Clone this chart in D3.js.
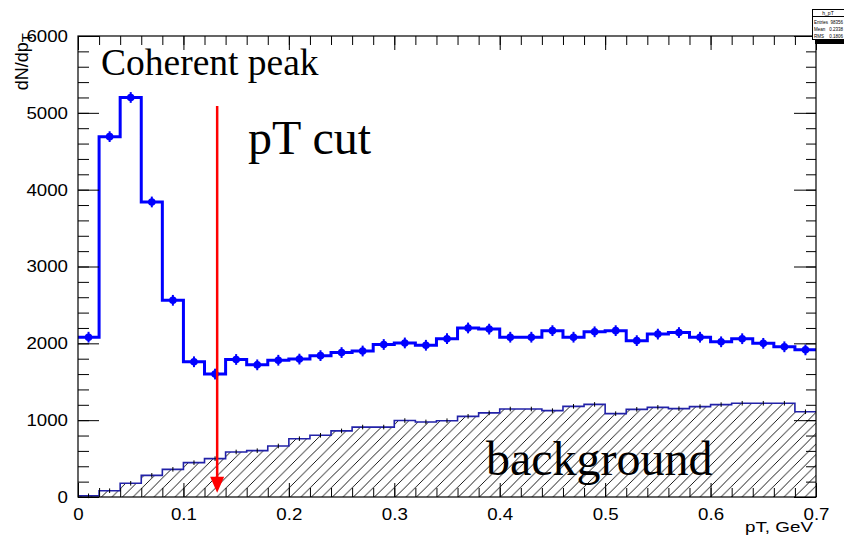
<!DOCTYPE html>
<html><head><meta charset="utf-8">
<script src="https://cdn.jsdelivr.net/npm/d3@7"></script>
<style>body{margin:0;background:#fff} svg{display:block}</style>
</head><body>
<svg id="c" width="844" height="542"></svg>
<script>
// ---- data ----
const binLow = [0.00,0.02,0.04,0.06,0.08,0.10,0.12,0.14,0.16,0.18,0.20,0.22,0.24,0.26,0.28,0.30,0.32,0.34,0.36,0.38,0.40,0.42,0.44,0.46,0.48,0.50,0.52,0.54,0.56,0.58,0.60,0.62,0.64,0.66,0.68];
const binWidth = 0.02;
const signal = [2080,4690,5200,3840,2560,1760,1600,1790,1720,1780,1795,1840,1880,1900,1985,2005,1975,2060,2200,2185,2080,2080,2165,2080,2150,2165,2035,2120,2140,2080,2020,2060,2000,1955,1915];
const signalErr = [70,70,70,70,70,70,70,70,70,70,70,70,70,70,70,70,70,70,70,70,70,70,70,70,70,70,70,70,70,70,70,70,70,70,70];
const background = [15,82,178,282,360,447,499,586,603,664,759,803,860,910,910,995,977,993,1050,1095,1145,1145,1124,1180,1205,1085,1141,1167,1150,1176,1202,1220,1220,1220,1110];
const backgroundErr = [30,30,30,30,30,30,30,30,30,30,30,30,30,30,30,30,30,30,30,30,30,30,30,30,30,30,30,30,30,30,30,30,30,30,30];
const xTicks = [0,0.1,0.2,0.3,0.4,0.5,0.6,0.7];
const xTickLabels = ["0","0.1","0.2","0.3","0.4","0.5","0.6","0.7"];
const xMinorTicks = binLow.concat([0.7]);
const yTicks = [0,1000,2000,3000,4000,5000,6000];
const yTickLabels = ["0","1000","2000","3000","4000","5000","6000"];
const yMinorTicks = [0,200,400,600,800,1000,1200,1400,1600,1800,2000,2200,2400,2600,2800,3000,3200,3400,3600,3800,4000,4200,4400,4600,4800,5000,5200,5400,5600,5800,6000];
const cutValue = 0.132;
const arrowTop = 5090, arrowTip = 55;
const xTitle = "pT, GeV";
const yTitleMain = "dN/dp", yTitleSub = "T";

// ---- layout ----
const L = 78, R = 816, T = 36, B = 497;
const x = d3.scaleLinear().domain([0, 0.7]).range([L, R]);
const y = d3.scaleLinear().domain([0, 6000]).range([B, T]);
const svg = d3.select("#c");
const sans = "'Liberation Sans', Arial, Helvetica, sans-serif";
const serif = "'Liberation Serif', 'Times New Roman', serif";

const defs = svg.append("defs");
const s = 10.5;
const pat = defs.append("pattern").attr("id","hatch").attr("patternUnits","userSpaceOnUse")
  .attr("width", s).attr("height", s);
pat.append("path")
  .attr("d", `M0,${s} L${s},0 M${-s/4},${s/4} L${s/4},${-s/4} M${3*s/4},${5*s/4} L${5*s/4},${3*s/4}`)
  .attr("stroke","#000").attr("stroke-width",0.9).attr("fill","none");

// background histogram
const bgPts = binLow.map((b,i)=>[b, background[i]]).concat([[0.7, background[background.length-1]]]);
svg.append("path")
  .attr("d", d3.area().x(d=>x(d[0])).y0(y(0)).y1(d=>y(d[1])).curve(d3.curveStepAfter)(bgPts))
  .attr("fill","url(#hatch)");
svg.append("path")
  .attr("d", d3.line().x(d=>x(d[0])).y(d=>y(d[1])).curve(d3.curveStepAfter)(bgPts))
  .attr("fill","none").attr("stroke","#2222a8").attr("stroke-width",1.6);
svg.append("g").selectAll("line").data(background).join("line")
  .attr("x1",(d,i)=>x(binLow[i]+binWidth/2)).attr("x2",(d,i)=>x(binLow[i]+binWidth/2))
  .attr("y1",(d,i)=>y(d-backgroundErr[i])).attr("y2",(d,i)=>y(d+backgroundErr[i]))
  .attr("stroke","#000").attr("stroke-width",1);

// signal histogram
const sigPts = binLow.map((b,i)=>[b, signal[i]]).concat([[0.7, signal[signal.length-1]]]);
svg.append("path")
  .attr("d", d3.line().x(d=>x(d[0])).y(d=>y(d[1])).curve(d3.curveStepAfter)(sigPts))
  .attr("fill","none").attr("stroke","#0000ff").attr("stroke-width",3);
const mk = svg.append("g");
mk.selectAll("line").data(signal).join("line")
  .attr("x1",(d,i)=>x(binLow[i]+binWidth/2)).attr("x2",(d,i)=>x(binLow[i]+binWidth/2))
  .attr("y1",(d,i)=>y(d-signalErr[i])).attr("y2",(d,i)=>y(d+signalErr[i]))
  .attr("stroke","#0000ff").attr("stroke-width",2);
mk.selectAll("circle").data(signal).join("circle")
  .attr("cx",(d,i)=>x(binLow[i]+binWidth/2)).attr("cy",d=>y(d)).attr("r",3.8).attr("fill","#0000ff");

// red arrow
const ax = x(cutValue), tipY = y(arrowTip);
svg.append("line").attr("x1",ax).attr("x2",ax).attr("y1",y(arrowTop)).attr("y2",tipY-14)
  .attr("stroke","#ff0000").attr("stroke-width",2.5);
svg.append("path").attr("d",`M${ax-7},${tipY-16} L${ax+7},${tipY-16} L${ax},${tipY} Z`).attr("fill","#ff0000");

// annotations
svg.append("text").attr("x",101).attr("y",75).attr("font-family",serif).attr("font-size",37.5).text("Coherent peak");
svg.append("text").attr("x",248).attr("y",154).attr("font-family",serif).attr("font-size",48).text("pT cut");
svg.append("text").attr("x",486).attr("y",475).attr("font-family",serif).attr("font-size",48).text("background");

// axes
function styleAxis(g){ g.select(".domain").remove(); g.selectAll("line").attr("stroke","#000").attr("stroke-width",1); g.selectAll("text").attr("font-family",sans).attr("font-size",17).attr("fill","#000"); }
function stretch(sel, k){ sel.each(function(){ const l=this.getComputedTextLength(); d3.select(this).attr("textLength", l*k).attr("lengthAdjust","spacingAndGlyphs"); }); }

svg.append("g").attr("transform",`translate(${L},0)`).call(d3.axisLeft(y).tickValues(yMinorTicks).tickSize(-11).tickFormat("")).call(styleAxis);
const gl = svg.append("g").attr("transform",`translate(${L},0)`).call(d3.axisLeft(y).tickValues(yTicks).tickSize(-21).tickPadding(10).tickFormat((d,i)=>yTickLabels[i])).call(styleAxis);
svg.append("g").attr("transform",`translate(${R},0)`).call(d3.axisRight(y).tickValues(yMinorTicks).tickSize(-10).tickFormat("")).call(styleAxis);
svg.append("g").attr("transform",`translate(${R},0)`).call(d3.axisRight(y).tickValues(yTicks).tickSize(-22).tickFormat("")).call(styleAxis);
svg.append("g").attr("transform",`translate(0,${B})`).call(d3.axisBottom(x).tickValues(xMinorTicks).tickSize(-9).tickFormat("")).call(styleAxis);
const gb = svg.append("g").attr("transform",`translate(0,${B})`).call(d3.axisBottom(x).tickValues(xTicks).tickSize(-14).tickPadding(11).tickFormat((d,i)=>xTickLabels[i])).call(styleAxis);
svg.append("g").attr("transform",`translate(0,${T})`).call(d3.axisTop(x).tickValues(xMinorTicks).tickSize(-9).tickFormat("")).call(styleAxis);
svg.append("g").attr("transform",`translate(0,${T})`).call(d3.axisTop(x).tickValues(xTicks).tickSize(-14).tickFormat("")).call(styleAxis);
stretch(gl.selectAll("text"), 1.1);
stretch(gb.selectAll("text"), 1.1);

// frame
svg.append("rect").attr("x",L).attr("y",T).attr("width",R-L).attr("height",B-T).attr("fill","none").attr("stroke","#000").attr("stroke-width",1.2);

// axis titles
svg.append("text").attr("x",813).attr("y",532).attr("text-anchor","end").attr("font-family",sans).attr("font-size",15)
  .attr("textLength",68).attr("lengthAdjust","spacingAndGlyphs").text(xTitle);
const yt = svg.append("text").attr("transform","translate(28,33) rotate(-90)").attr("text-anchor","end")
  .attr("font-family",sans).attr("font-size",18);
yt.append("tspan").text(yTitleMain);
yt.append("tspan").attr("font-size",15).attr("dy",4).text(yTitleSub);

// stat box (ROOT)
svg.append("rect").attr("x",815).attr("y",12).attr("width",40).attr("height",32).attr("fill","#000");
svg.append("rect").attr("x",812.5).attr("y",9.5).attr("width",40).attr("height",30).attr("fill","#fff").attr("stroke","#000").attr("stroke-width",1);
svg.append("line").attr("x1",812.5).attr("x2",852).attr("y1",16.5).attr("y2",16.5).attr("stroke","#000");
const st = [["h_pT",""],["Entries","98356"],["Mean","0.2338"],["RMS","0.1806"]];
st.forEach((r,i)=>{
  if(i===0){ svg.append("text").attr("x",828).attr("y",15).attr("text-anchor","middle").attr("font-family",sans).attr("font-size",5).text(r[0]); }
  else {
    svg.append("text").attr("x",814).attr("y",16.5+i*7.2).attr("font-family",sans).attr("font-size",4.5).text(r[0]);
    svg.append("text").attr("x",843).attr("y",16.5+i*7.2).attr("text-anchor","end").attr("font-family",sans).attr("font-size",4.5).text(r[1]);
  }
});
</script>
</body></html>
